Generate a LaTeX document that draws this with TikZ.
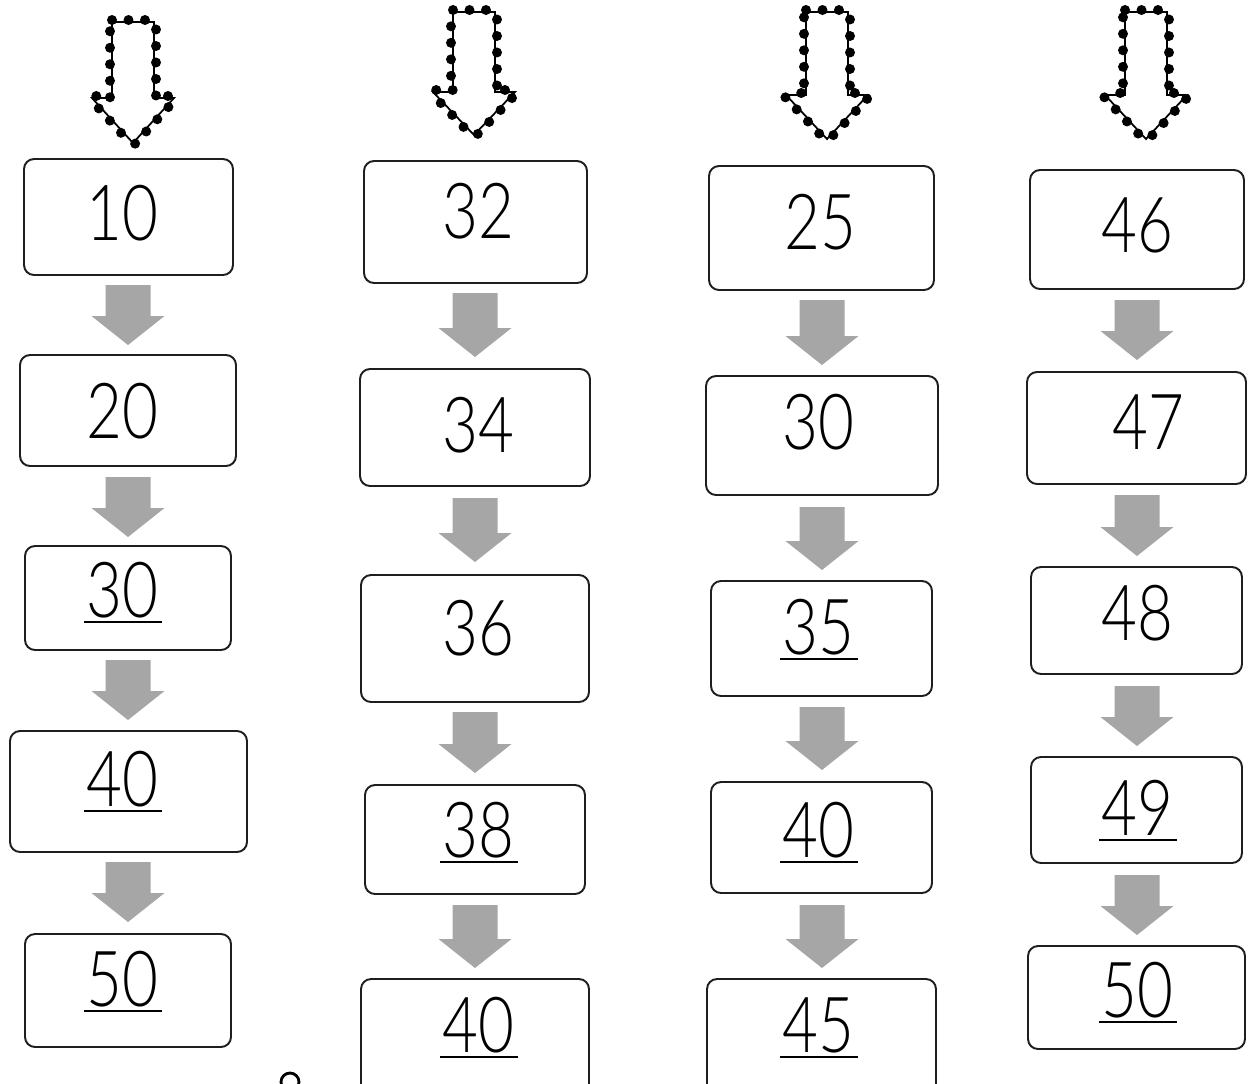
\documentclass[tikz,border=0pt]{standalone}
\usepackage{fontspec}
\setmainfont{Lato}[UprightFont=* Light]
\usetikzlibrary{decorations.markings,calc}
\definecolor{garrowc}{RGB}{166,166,166}
\definecolor{boxc}{RGB}{30,30,30}
\tikzset{
  box/.style={draw=boxc, line width=1.1pt, rounded corners=0.2cm, inner sep=0pt},
  num/.style={inner sep=0pt, font=\fontsize{44}{44}\selectfont},
  ulline/.style={line width=1.6pt, black},
  garrow/.style={fill=garrowc, draw=none},
  dotline/.style={draw=black, line width=1pt, line join=miter,
    postaction={decorate},
    decoration={markings, mark=between positions 0 and 1 step 0.33cm with {\fill[black] (0,0.04cm) circle (0.1cm);}}},
}
\newcommand\bx[8]{%
  \node[box, minimum width=#4cm, minimum height=#5cm] (#1) at (#2,#3) {};
  \node[num, anchor=base] (#1t) at (#6,#7) {\scalebox{0.8}[1]{#8}};}
\newcommand\bxu[8]{\bx{#1}{#2}{#3}{#4}{#5}{#6}{#7}{#8}%
  \draw[ulline] ($(#1t.base west)+(-2,5)$) -- ($(#1t.base east)+(4,5)$);}
\newcommand\grayarr[3]{%
  \fill[garrow] ({#1-22.5},#2) -- ({#1+22.5},#2) -- ({#1+22.5},{#3-29}) -- ({#1+36.5},{#3-29})
   -- (#1,#3) -- ({#1-36.5},{#3-29}) -- ({#1-22.5},{#3-29}) -- cycle;}
\newcommand\dotarr[4]{%
  \fill[white] ({#1-21},#2) -- ({#1+21},#2) -- ({#1+21},#3) -- ({#1+41},#3) -- (#1,#4)
   -- ({#1-41},#3) -- ({#1-21},#3) -- cycle;
  \path[dotline] ({#1-21},#2) -- ({#1+21},#2) -- ({#1+21},#3) -- ({#1+41},#3) -- (#1,#4)
   -- ({#1-41},#3) -- ({#1-21},#3) -- cycle;}
\begin{document}
\begin{tikzpicture}[x=0.02cm, y=-0.02cm]
\useasboundingbox (0,0) rectangle (1248,1083);
\clip (0,0) rectangle (1248,1083);
\fill[white] (0,0) rectangle (1248,1083);

% dotted arrows
\dotarr{133}{22}{98}{143}
\dotarr{474}{12}{92}{135}
\dotarr{827}{12}{95}{139}
\dotarr{1146}{12}{95}{139}

% column 1
\bx{b11}{128.5}{217}{4.18}{2.32}{122}{240}{10}
\bx{b12}{128}{410.5}{4.32}{2.22}{122}{438}{20}
\bxu{b13}{128}{598}{4.12}{2.08}{122}{617}{30}
\bxu{b14}{128.5}{791.5}{4.74}{2.42}{122}{806}{40}
\bxu{b15}{128}{990.5}{4.12}{2.26}{122}{1006}{50}

% column 2
\bx{b21}{475.5}{222}{4.46}{2.44}{478}{238}{32}
\bx{b22}{475}{427.5}{4.60}{2.34}{478}{452}{34}
\bx{b23}{475}{638.5}{4.56}{2.54}{478}{655}{36}
\bxu{b24}{475}{839.5}{4.40}{2.18}{478}{857}{38}
\bxu{b25}{475}{1044.5}{4.56}{2.62}{478}{1052}{40}

% column 3
\bx{b31}{821.5}{228}{4.50}{2.48}{820}{249}{25}
\bx{b32}{822}{435.5}{4.64}{2.38}{818}{449}{30}
\bxu{b33}{821.5}{638.5}{4.42}{2.30}{818}{654}{35}
\bxu{b34}{821.5}{837.5}{4.42}{2.22}{818}{857}{40}
\bxu{b35}{821.5}{1044.5}{4.58}{2.62}{818}{1052}{45}

% column 4
\bx{b41}{1137}{229.5}{4.28}{2.38}{1137}{252}{46}
\bx{b42}{1136.5}{428}{4.38}{2.24}{1148}{449}{47}
\bx{b43}{1136.5}{620.5}{4.22}{2.14}{1137}{640}{48}
\bxu{b44}{1136.5}{810}{4.22}{2.12}{1137}{835}{49}
\bxu{b45}{1136.5}{997.5}{4.34}{2.06}{1137}{1017}{50}

% gray arrows
\grayarr{128}{285}{345}
\grayarr{128}{477}{537}
\grayarr{128}{660}{720}
\grayarr{128}{862}{922}
\grayarr{475}{293}{357}
\grayarr{475}{498}{562}
\grayarr{475}{712}{773}
\grayarr{475}{905}{968}
\grayarr{822}{300}{365}
\grayarr{822}{507}{570}
\grayarr{822}{707}{770}
\grayarr{822}{905}{968}
\grayarr{1137}{300}{360}
\grayarr{1137}{495}{556}
\grayarr{1137}{686}{746}
\grayarr{1137}{875}{935}

% partial glyph at bottom
\draw[line width=1.6pt] (290,1082) circle[radius=0.18cm];
\end{tikzpicture}
\end{document}
